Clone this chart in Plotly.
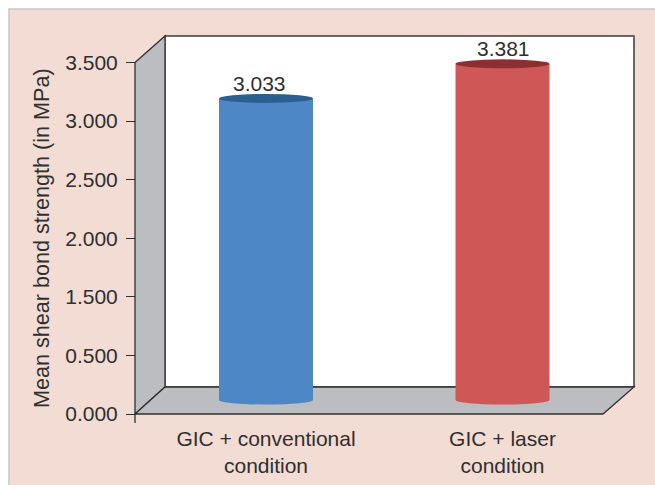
import plotly.graph_objects as go

categories = ["GIC + conventional<br>condition", "GIC + laser<br>condition"]
values = [3.033, 3.381]
value_labels = ["3.033", "3.381"]
bar_colors = ["#4d87c5", "#cf5856"]
cap_colors = ["#2b5f90", "#8c2f32"]
label_shifts = [-6.5, 0.5]
# The source axis prints seven evenly spaced labels and omits 1.000
y_tick_labels = ["0.000", "0.500", "1.500", "2.000", "2.500", "3.000", "3.500"]
y_tick_slots = [0, 1, 2, 3, 4, 5, 6]

W, H = 655, 485
FONT = "Liberation Sans, Arial, sans-serif"
INK = "#2f2f2f"
PANEL = "#f2dcd3"
WALL = "#bcbdc0"


def px(x):
    return x / W


def py(y):
    return 1 - y / H


def path(points):
    return "M " + " L ".join(f"{px(x):.4f},{py(y):.4f}" for x, y in points) + " Z"


def paper_shape(points, fill, line=INK, width=1.3):
    return dict(type="path", xref="paper", yref="paper", path=path(points),
                fillcolor=fill, line=dict(color=line, width=width), layer="below")


def seg(x0, y0, x1, y1, color=INK, width=1.3):
    return dict(type="line", xref="paper", yref="paper", x0=px(x0), y0=py(y0), x1=px(x1), y1=py(y1),
                line=dict(color=color, width=width), layer="below")


shapes = [
    dict(type="rect", xref="paper", yref="paper", x0=px(9), y0=-0.02, x1=1.02, y1=py(9),
         fillcolor=PANEL, line=dict(color="#c6c8c8", width=1.5), layer="below"),
    paper_shape([(165, 36), (634, 36), (634, 387), (165, 387)], "white", "#3a3a3a", 1.3),
    seg(634, 36, 634, 387, "#666666", 2),
    paper_shape([(135, 62.5), (165, 36), (165, 387), (135, 414)], WALL),
    paper_shape([(135, 414), (165, 387), (634, 387), (603, 414)], WALL),
    seg(135, 414, 135, 423),
]

BASE = 0.0001
for cat, val, bar, cap in zip(categories, values, bar_colors, cap_colors):
    common = dict(type="circle", xref="x", yref="y2", xsizemode="pixel", ysizemode="pixel",
                  xanchor=cat, x0=-47, x1=47, y0=-4.5, y1=4.5, line=dict(width=0), layer="above")
    shapes.append(dict(common, yanchor=BASE, fillcolor=bar))
    shapes.append(dict(common, yanchor=val, fillcolor=cap))

annotations = [
    dict(x=cat, y=val, xref="x", yref="y2", text=lab, showarrow=False, xanchor="center", yanchor="middle",
         xshift=shift, yshift=15, font=dict(family=FONT, size=21, color=INK))
    for cat, val, lab, shift in zip(categories, values, value_labels, label_shifts)
]

fig = go.Figure()
fig.add_trace(go.Bar(
    x=categories, y=values, xaxis="x", yaxis="y2",
    marker=dict(color=bar_colors, line=dict(width=0)),
    width=94 / 236.5, cliponaxis=False,
    showlegend=False, hoverinfo="skip",
))
# invisible carrier so the front label axis is drawn
fig.add_trace(go.Scatter(x=[categories[0]] * len(y_tick_slots), y=y_tick_slots, xaxis="x", yaxis="y", mode="markers",
                         marker=dict(opacity=0), showlegend=False, hoverinfo="skip"))

UNIT_PX = 348 / 3.5  # pixels per MPa on the bar axis
fig.update_layout(
    width=W, height=H, margin=dict(l=0, r=0, t=0, b=0),
    paper_bgcolor="white", plot_bgcolor="rgba(0,0,0,0)",
    font=dict(family=FONT, size=21, color=INK),
    shapes=shapes, annotations=annotations,
    xaxis=dict(domain=[px(147.75), px(620.75)], anchor="free", position=py(414), type="category",
               categoryorder="array", categoryarray=categories, showgrid=False, showline=False,
               ticks="", tickfont=dict(size=21, color=INK), zeroline=False, automargin=False,
               ticklabelstandoff=10),
    yaxis=dict(domain=[py(414), py(62.5)], range=[0, 6], anchor="free", position=px(135),
               tickvals=y_tick_slots, ticktext=y_tick_labels, ticks="outside", ticklen=9, tickwidth=1.2,
               tickcolor=INK, showline=False, showgrid=False, zeroline=False, automargin=False,
               tickfont=dict(size=21, color=INK), ticklabelstandoff=4,
               title=dict(text="Mean shear bond strength (in MPa)", font=dict(size=21.6, color=INK), standoff=8)),
    yaxis2=dict(domain=[py(410), py(52)], range=[-10 / UNIT_PX, 3.5], anchor="x", visible=False),
)
fig.write_html("out.html", config=dict(displayModeBar=False),
               post_script="document.body.style.margin='0';")
